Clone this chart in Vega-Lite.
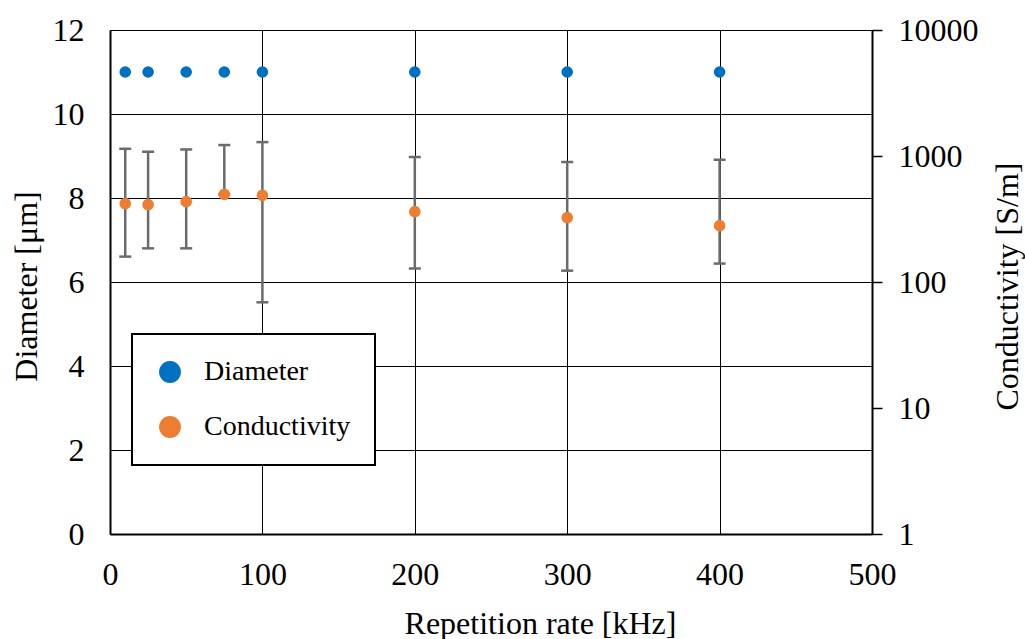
{
  "$schema": "https://vega.github.io/schema/vega-lite/v6.json",
  "width": 762,
  "height": 504,
  "autosize": {"type": "none"},
  "padding": {"left": 110, "top": 30, "right": 153, "bottom": 105},
  "background": "white",
  "config": {
    "font": "Liberation Serif",
    "view": {"stroke": null},
    "legend": {"strokeColor": "black", "strokeWidth": 2, "fillColor": "white", "labelLimit": 400},
    "axis": {
      "labelFont": "Liberation Serif",
      "titleFont": "Liberation Serif",
      "labelFontSize": 32,
      "titleFontSize": 32,
      "titleFontWeight": "normal",
      "labelColor": "black",
      "titleColor": "black",
      "domainColor": "black",
      "domainWidth": 2,
      "gridColor": "black",
      "gridWidth": 1,
      "gridOpacity": 1,
      "tickColor": "black",
      "labelOverlap": false,
      "labelFlush": false
    }
  },
  "data": {
    "values": [
      {"rate": 10, "diameter": 11, "cond": 419, "low": 159, "high": 1141},
      {"rate": 25, "diameter": 11, "cond": 411, "low": 185, "high": 1081},
      {"rate": 50, "diameter": 11, "cond": 434, "low": 185, "high": 1127},
      {"rate": 75, "diameter": 11, "cond": 496, "low": 496, "high": 1222},
      {"rate": 100, "diameter": 11, "cond": 487, "low": 69, "high": 1289},
      {"rate": 200, "diameter": 11, "cond": 362, "low": 128, "high": 981},
      {"rate": 300, "diameter": 11, "cond": 324, "low": 123, "high": 896},
      {"rate": 400, "diameter": 11, "cond": 280, "low": 140, "high": 934}
    ]
  },
  "encoding": {
    "x": {
      "field": "rate",
      "type": "quantitative",
      "scale": {"domain": [0, 500], "nice": false},
      "axis": {
        "title": "Repetition rate [kHz]",
        "values": [0, 100, 200, 300, 400, 500],
        "grid": true,
        "ticks": false,
        "tickSize": 0,
        "labelPadding": 50,
        "labelBaseline": "alphabetic",
        "titleX": 430,
        "titleY": 99,
        "titleBaseline": "alphabetic",
        "titleAlign": "center"
      }
    }
  },
  "layer": [
    {
      "mark": {"type": "point", "filled": true, "size": 135, "opacity": 1},
      "encoding": {
        "y": {
          "field": "diameter",
          "type": "quantitative",
          "scale": {"domain": [0, 12], "nice": false},
          "axis": {
            "title": "Diameter [μm]",
            "orient": "left",
            "values": [0, 2, 4, 6, 8, 10, 12],
            "grid": true,
            "ticks": false,
            "tickSize": 0,
            "labelPadding": 26,
            "titleAngle": -90,
            "titleX": -74,
            "titleY": 256,
            "titleBaseline": "alphabetic",
            "titleAlign": "center"
          }
        },
        "color": {
          "datum": "Diameter",
          "type": "nominal",
          "scale": {"domain": ["Diameter", "Conductivity"], "range": ["#0070C0", "#ED7D31"]},
          "legend": {
            "orient": "none",
            "legendX": 22,
            "legendY": 304,
            "title": null,
            "padding": 24,
            "symbolSize": 478,
            "symbolType": "circle",
            "symbolStrokeWidth": 0,
            "symbolOpacity": 1,
            "labelFont": "Liberation Serif",
            "labelFontSize": 28,
            "labelColor": "black",
            "labelOffset": 20,
            "labelLimit": 400,
            "rowPadding": 27,
            "labelExpr": "datum.label + '\u3000'"
          }
        }
      }
    },
    {
      "layer": [
        {
          "mark": {"type": "rule", "color": "#6b6b6b", "strokeWidth": 2.5},
          "encoding": {
            "y": {
              "field": "low",
              "type": "quantitative",
              "scale": {"type": "log", "domain": [1, 10000], "nice": false},
              "axis": {"title": "Conductivity [S/m]", "orient": "right", "values": [1, 10, 100, 1000, 10000], "format": "d", "grid": false, "ticks": true, "tickSize": 10, "tickWidth": 1.5, "labelPadding": 16, "titleAngle": -90, "titleX": 145, "titleY": 256, "titleBaseline": "alphabetic", "titleAlign": "center"}
            },
            "y2": {"field": "high"}
          }
        },
        {
          "mark": {"type": "tick", "color": "#6b6b6b", "orient": "horizontal", "size": 12, "thickness": 2.5, "opacity": 1},
          "encoding": {
            "y": {
              "field": "low",
              "type": "quantitative",
              "axis": {"title": "Conductivity [S/m]", "orient": "right", "values": [1, 10, 100, 1000, 10000], "format": "d", "grid": false, "ticks": true, "tickSize": 10, "tickWidth": 1.5, "labelPadding": 16, "titleAngle": -90, "titleX": 145, "titleY": 256, "titleBaseline": "alphabetic", "titleAlign": "center"}
            }
          }
        },
        {
          "mark": {"type": "tick", "color": "#6b6b6b", "orient": "horizontal", "size": 12, "thickness": 2.5, "opacity": 1},
          "encoding": {
            "y": {
              "field": "high",
              "type": "quantitative",
              "axis": {"title": "Conductivity [S/m]", "orient": "right", "values": [1, 10, 100, 1000, 10000], "format": "d", "grid": false, "ticks": true, "tickSize": 10, "tickWidth": 1.5, "labelPadding": 16, "titleAngle": -90, "titleX": 145, "titleY": 256, "titleBaseline": "alphabetic", "titleAlign": "center"}
            }
          }
        },
        {
          "mark": {"type": "point", "filled": true, "size": 135, "opacity": 1},
          "encoding": {
            "y": {
              "field": "cond",
              "type": "quantitative",
              "axis": {"title": "Conductivity [S/m]", "orient": "right", "values": [1, 10, 100, 1000, 10000], "format": "d", "grid": false, "ticks": true, "tickSize": 10, "tickWidth": 1.5, "labelPadding": 16, "titleAngle": -90, "titleX": 145, "titleY": 256, "titleBaseline": "alphabetic", "titleAlign": "center"}
            },
            "color": {"datum": "Conductivity", "type": "nominal"}
          }
        }
      ]
    }
  ],
  "resolve": {"scale": {"y": "independent"}}
}
